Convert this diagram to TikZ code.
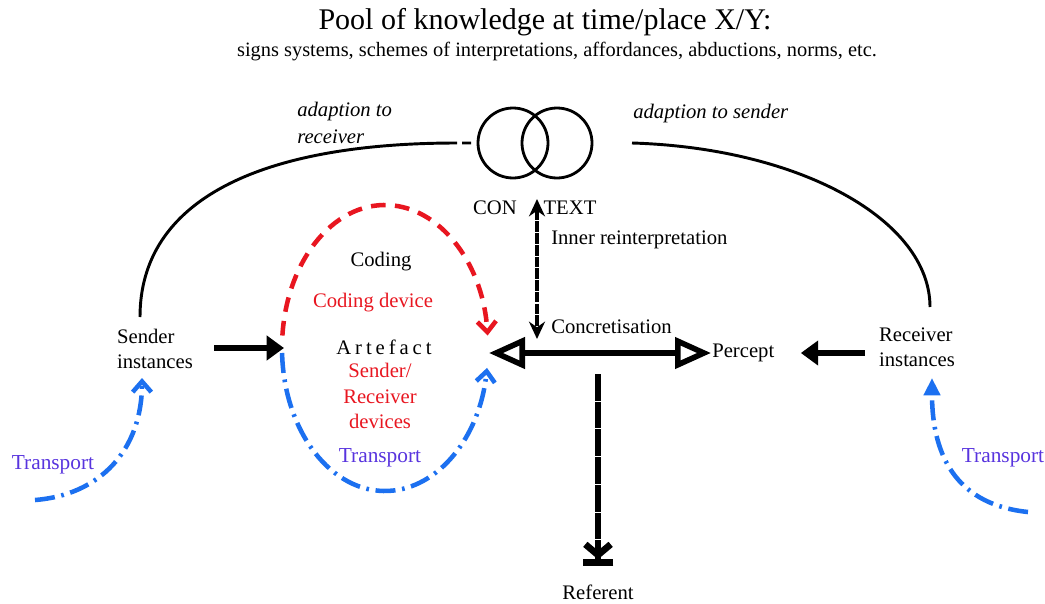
\documentclass[tikz,border=0pt]{standalone}
\usepackage{fontspec}
\setmainfont{Liberation Serif}
\usetikzlibrary{arrows.meta}
\definecolor{codered}{RGB}{232,22,32}
\definecolor{transblue}{RGB}{28,112,240}
\definecolor{transtext}{RGB}{88,52,222}

\begin{document}
\begin{tikzpicture}[x=0.75pt,y=0.75pt,yscale=-1,xscale=1,
    lbl/.style={inner sep=0.75pt,align=center,font=\fontsize{15.5}{19}\selectfont},
    italbl/.style={inner sep=0.75pt,align=left,font=\fontsize{15.5}{20}\selectfont\itshape},
    redlbl/.style={lbl,text=codered},
    translbl/.style={inner sep=0.75pt,text=transtext,font=\fontsize{16}{19}\selectfont},
    ctxring/.style={circle,draw,line width=2.1pt,inner sep=0pt,minimum size=52.5pt},
    arcline/.style={line width=2.2pt},
    fatarrow/.style={line width=4.2pt,-{Triangle[length=13pt,width=18pt]}},
    innerarrow/.style={line width=3.3pt,dash pattern=on 8pt off 0.8pt,{Stealth[length=13pt,width=12pt]}-{Stealth[length=13pt,width=12pt]}},
    concarrow/.style={line width=4.2pt,{Triangle[open,length=27pt,width=23pt]}-{Triangle[open,length=27pt,width=23pt]}},
    refarrow/.style={line width=5pt,dash pattern=on 20pt off 0.8pt,-{Straight Barb[length=8pt,width=19pt] Bar[width=23pt]}},
    redcycle/.style={draw=codered,line width=3.4pt,dash pattern=on 11pt off 7pt,-{Straight Barb[length=8pt,width=14pt]}},
    bluecycle/.style={draw=transblue,line width=3.4pt,dash pattern=on 15pt off 5pt on 2pt off 5pt,-{Straight Barb[length=8pt,width=14pt]}}
  ]
  \useasboundingbox (0,0) rectangle (1045,603);

  % Text Node
  \node (title) at (545,22) [inner sep=0.75pt,font=\fontsize{22.5}{24}\selectfont] {Pool of knowledge at time/place X/Y:};
  % Text Node
  \node (subtitle) at (557,52) [inner sep=0.75pt,font=\fontsize{15.3}{17}\selectfont] {signs systems, schemes of interpretations, affordances, abductions, norms, etc.};
  % Text Node
  \node (adaptrecv) at (296,123) [anchor=west,italbl] {adaption to\\receiver};
  % Text Node
  \node (adaptsend) at (632,114) [anchor=west,italbl] {adaption to sender};

  %Shape: Circle
  \node (con) at (513,143) [ctxring] {};
  %Shape: Circle
  \node (text) at (557,143) [ctxring] {};

  % Text Node
  \node (conlbl) at (495,208) [lbl] {CON};
  % Text Node
  \node (textlbl) at (570,208) [lbl] {TEXT};
  % Text Node
  \node (inner) at (550,240) [anchor=west,lbl] {Inner reinterpretation};
  % Text Node
  \node (concret) at (550,327) [anchor=west,lbl] {Concretisation};
  % Text Node
  \node (percept) at (711,353) [anchor=west,lbl] {Percept};
  % Text Node
  \node (sender) at (155,349) [lbl,align=left] {Sender\\instances};
  % Text Node
  \node (receiver) at (917,347) [lbl,align=left] {Receiver\\instances};
  % Text Node
  \node (coding) at (381,262) [lbl] {Coding};
  % Text Node
  \node (codingdev) at (373,303) [redlbl] {Coding device};
  % Text Node
  \node (artefact) at (384,347) [lbl] {\addfontfeature{LetterSpace=19}Artefact};
  % Text Node
  \node (devices) at (380,396) [redlbl] {Sender/\\Receiver\\devices};
  % Text Node
  \node (transmid) at (380,458) [translbl] {Transport};
  % Text Node
  \node (translft) at (53,465) [translbl] {Transport};
  % Text Node
  \node (transrgt) at (1003,458) [translbl] {Transport};
  % Text Node
  \node (referent) at (598,592) [lbl] {Referent};

  \coordinate (eggc) at (385,348);
  \coordinate (artin) at (284,348);
  \coordinate (artout) at (489,353);
  \coordinate (ctxbot) at (537,199);
  \coordinate (conctop) at (537,339);
  \coordinate (refstart) at (598,374);
  \coordinate (sendtop) at (140,317);
  \coordinate (ctxleft) at (457,143);
  \coordinate (ctxright) at (632,143);
  \coordinate (recvtop) at (930,307);
  \coordinate (translow) at (35,500);
  \coordinate (sendbot) at (142,378);
  \coordinate (transhigh) at (1028,512);
  \coordinate (recvbot) at (932,378);

  %Curve Lines
  \draw [arcline] (sendtop) .. controls (140,200) and (260,143) .. (ctxleft) ++(5,0) -- ++(9,0);
  %Curve Lines
  \draw [arcline] (ctxright) .. controls (800,148) and (930,220) .. (recvtop);

  %Curve Lines
  \draw [redcycle] (eggc) ++(185:103 and 143) arc [start angle=185,end angle=355,x radius=103,y radius=143];
  %Curve Lines
  \draw [bluecycle] (eggc) ++(178:103 and 143) arc [start angle=178,end angle=8,x radius=103,y radius=143];
  %Curve Lines
  \draw [bluecycle] (translow) .. controls (100,495) and (142,450) .. (sendbot);
  %Curve Lines
  \draw [bluecycle,-{Triangle[length=13pt,width=12pt]}] (transhigh) .. controls (960,505) and (932,460) .. (recvbot);

  %Straight Lines
  \draw [fatarrow,shorten <=15pt] (sender.east |- artin) -- (artin);
  %Straight Lines
  \draw [fatarrow,shorten <=10pt,shorten >=19pt] (receiver.west |- percept.east) -- (percept.east);
  %Straight Lines
  \draw [innerarrow] (ctxbot) -- (conctop);
  %Straight Lines
  \draw [concarrow] (artout) -- (percept.west);
  %Straight Lines
  \draw [refarrow,shorten >=13pt] (refstart) -- (referent.north);
\end{tikzpicture}
\end{document}
